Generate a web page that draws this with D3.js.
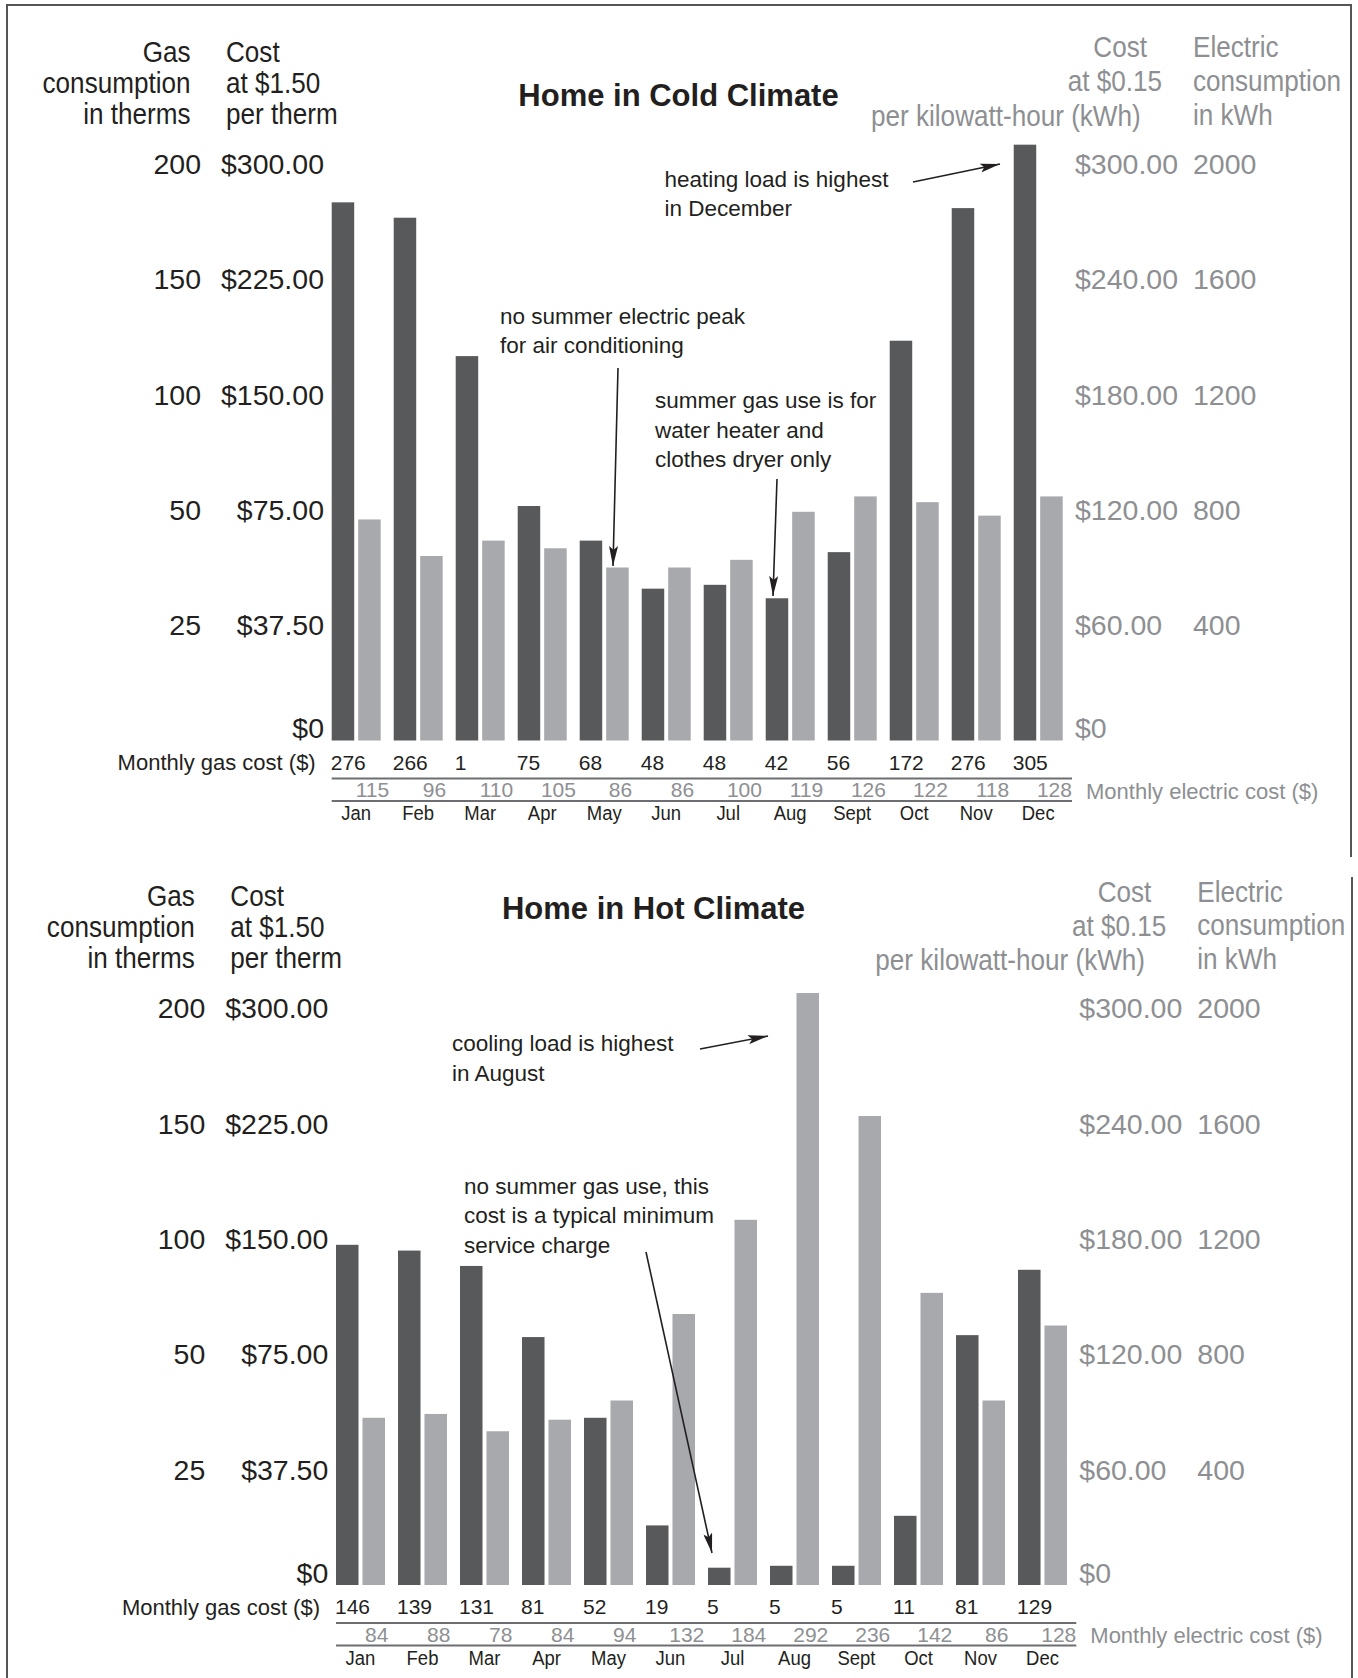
<!DOCTYPE html>
<html><head><meta charset="utf-8">
<script src="https://cdn.jsdelivr.net/npm/d3@7"></script>
<style>body{margin:0;background:#fff}</style>
</head><body><svg id="c" width="1358" height="1678"></svg>
<script>
// ---------- data ----------
const months = ["Jan","Feb","Mar","Apr","May","Jun","Jul","Aug","Sept","Oct","Nov","Dec"];

// bar heights, on the cost ($) scale
const coldGasBar  = [280, 272, 200, 122, 104, 79, 81, 74, 98, 208, 277, 310];
const coldElecBar = [115, 96, 104, 100, 90, 90, 94, 119, 127, 124, 117, 127];
const coldGasLabels  = ["276","266","1","75","68","48","48","42","56","172","276","305"];
const coldElecLabels = ["115","96","110","105","86","86","100","119","126","122","118","128"];

const hotGasBar  = [177, 174, 166, 129, 87, 31, 9, 10, 10, 36, 130, 164];
const hotElecBar = [87, 89, 80, 86, 96, 141, 190, 308, 244, 152, 96, 135];
const hotGasLabels  = ["146","139","131","81","52","19","5","5","5","11","81","129"];
const hotElecLabels = ["84","88","78","84","94","132","184","292","236","142","86","128"];

const costTicks = [0, 60, 120, 180, 240, 300];
const leftThermLabels = ["", "25", "50", "100", "150", "200"];
const leftCostLabels  = ["$0", "$37.50", "$75.00", "$150.00", "$225.00", "$300.00"];
const rightCostLabels = ["$0", "$60.00", "$120.00", "$180.00", "$240.00", "$300.00"];
const rightKwhLabels  = ["", "400", "800", "1200", "1600", "2000"];

const leftHeadA = ["Gas", "consumption", "in therms"];
const leftHeadB = ["Cost", "at $1.50", "per therm"];
const rightHeadA = ["Cost", "at $0.15", "per kilowatt-hour (kWh)"];
const rightHeadB = ["Electric", "consumption", "in kWh"];

const coldNotes = [
  {lines: ["heating load is highest", "in December"], x: 664.5, y: 178.7, from: [913, 182], to: [1000, 164]},
  {lines: ["no summer electric peak", "for air conditioning"], x: 500, y: 315.7, from: [618, 368], to: [613, 566]},
  {lines: ["summer gas use is for", "water heater and", "clothes dryer only"], x: 655, y: 400.2, from: [777, 479], to: [773, 596]}
];
const hotNotes = [
  {lines: ["cooling load is highest", "in August"], x: 452, y: 1043.3, from: [700, 1049], to: [768, 1036]},
  {lines: ["no summer gas use, this", "cost is a typical minimum", "service charge"], x: 464, y: 1185.7, from: [646, 1252], to: [712, 1553]}
];

// ---------- styles ----------
const SANS = "'Liberation Sans',Arial,sans-serif";
const GAS_COLOR = "#58595b", ELEC_COLOR = "#a7a9ac";
const DARK = "#231f20", GRAY_TEXT = "#8d8f92", RULE = "#6d6e71";

const svg = d3.select("#c");
svg.append("rect").attr("width", 1358).attr("height", 1678).attr("fill", "#fff");

svg.append("defs").append("marker")
  .attr("id", "arrow").attr("viewBox", "0 0 20 9")
  .attr("refX", 20).attr("refY", 4.5)
  .attr("markerWidth", 20).attr("markerHeight", 9)
  .attr("markerUnits", "userSpaceOnUse").attr("orient", "auto")
  .append("path").attr("d", "M0,0 L20,4.5 L0,9 L4,4.5 Z").attr("fill", DARK);

// frame
const frame = svg.append("g").attr("stroke", "#555").attr("stroke-width", 2).attr("fill", "none");
frame.append("path").attr("d", "M7,1678 L7,5 L1351,5 L1351,857");
frame.append("path").attr("d", "M1352,877 L1352,1678");

// text helper: places a (possibly horizontally condensed) text, vertically centred on y
function texts(parent, data, fx, fy, opt) {
  const sx = opt.sx || 1;
  return parent.append("g").selectAll("text").data(data).join("text")
    .attr("transform", (d, i) => `translate(${fx(d, i)},${fy(d, i)}) scale(${sx},1)`)
    .attr("dy", "0.35em")
    .attr("text-anchor", opt.anchor || "start")
    .attr("fill", opt.fill || DARK)
    .style("font-family", SANS)
    .style("font-size", opt.size + "px")
    .style("font-weight", opt.weight || "normal")
    .text(opt.text || (d => d));
}

function drawPanel(p) {
  const g = svg.append("g").attr("transform", `translate(${p.dx},${p.dy})`);

  const x = d3.scaleBand().domain(months).range([331.7, 1062.7]).paddingInner(0.21).paddingOuter(0);
  const sub = d3.scaleBand().domain(["gas", "elec"]).range([0, x.bandwidth()]).paddingInner(0.15);
  const y = d3.scaleLinear().domain([0, 300]).range([740.5, 163.9]);
  const tickY = v => v === 0 ? y(0) - 12 : y(v);

  // headers
  const H = {size: 29, sx: 0.9};
  texts(g, leftHeadA, () => 190.5, (d, i) => 51.4 + i * 31, {...H, anchor: "end"});
  texts(g, leftHeadB, () => 226, (d, i) => 51.4 + i * 31, {...H});
  const rhEnds = [1147, 1162, 1140.7];
  texts(g, rightHeadA, (d, i) => rhEnds[i], (d, i) => 47 + i * 34.3, {...H, anchor: "end", fill: GRAY_TEXT});
  texts(g, rightHeadB, () => 1193, (d, i) => 47 + i * 33.8, {...H, fill: GRAY_TEXT});

  // title
  texts(g, [p.title], () => p.titleX, () => p.titleY, {size: 31, weight: "bold", anchor: "middle"});

  // tick labels (positioned with the cost scale)
  const T = {size: 28.5};
  texts(g, costTicks, () => 201, d => tickY(d), {...T, anchor: "end", text: (d, i) => leftThermLabels[i]});
  texts(g, costTicks, () => 324, d => tickY(d), {...T, anchor: "end", text: (d, i) => leftCostLabels[i]});
  texts(g, costTicks, () => 1075, d => tickY(d), {...T, fill: GRAY_TEXT, text: (d, i) => rightCostLabels[i]});
  texts(g, costTicks, () => 1193, d => tickY(d), {...T, fill: GRAY_TEXT, text: (d, i) => rightKwhLabels[i]});

  // bars
  const rows = months.map((m, i) => ({m, gas: p.gasBar[i], elec: p.elecBar[i], gl: p.gasLabels[i], el: p.elecLabels[i]}));
  g.append("g").selectAll("rect").data(rows).join("rect")
    .attr("x", d => x(d.m) + sub("gas")).attr("width", sub.bandwidth())
    .attr("y", d => y(d.gas)).attr("height", d => y(0) - y(d.gas)).attr("fill", GAS_COLOR);
  g.append("g").selectAll("rect").data(rows).join("rect")
    .attr("x", d => x(d.m) + sub("elec")).attr("width", sub.bandwidth())
    .attr("y", d => y(d.elec)).attr("height", d => y(0) - y(d.elec)).attr("fill", ELEC_COLOR);

  // table
  const rowGas = 762.5, rule1 = 778.5, rowElec = 790, rule2 = 801, rowMonth = 813;
  texts(g, ["Monthly gas cost ($)"], () => 315.7, () => rowGas, {size: 22, anchor: "end"});
  texts(g, rows, d => x(d.m) + sub("gas") - 1, () => rowGas, {size: 21, text: d => d.gl});
  g.append("g").selectAll("line").data([rule1, rule2]).join("line")
    .attr("x1", x.range()[0]).attr("x2", 1072).attr("y1", d => d).attr("y2", d => d)
    .attr("stroke", RULE).attr("stroke-width", 2);
  texts(g, rows, d => x(d.m) + sub("elec") + sub.bandwidth() / 2 + 3, () => rowElec,
    {size: 21, anchor: "middle", fill: GRAY_TEXT, text: d => d.el});
  texts(g, ["Monthly electric cost ($)"], () => 1086, () => 791, {size: 22, fill: GRAY_TEXT});
  texts(g, rows, d => x(d.m) + x.bandwidth() / 2, () => rowMonth, {size: 21, sx: 0.88, anchor: "middle", text: d => d.m});
}

function drawNotes(notes) {
  const g = svg.append("g");
  notes.forEach(n => {
    texts(g, n.lines, () => n.x, (d, i) => n.y + i * 29.5, {size: 22.5});
    g.append("line").attr("x1", n.from[0]).attr("y1", n.from[1]).attr("x2", n.to[0]).attr("y2", n.to[1])
      .attr("stroke", DARK).attr("stroke-width", 1.6).attr("marker-end", "url(#arrow)");
  });
}

drawPanel({title: "Home in Cold Climate", titleX: 678.5, titleY: 95, dx: 0, dy: 0,
  gasBar: coldGasBar, elecBar: coldElecBar, gasLabels: coldGasLabels, elecLabels: coldElecLabels});
drawPanel({title: "Home in Hot Climate", titleX: 649.2, titleY: 64, dx: 4.3, dy: 844.5,
  gasBar: hotGasBar, elecBar: hotElecBar, gasLabels: hotGasLabels, elecLabels: hotElecLabels});
drawNotes(coldNotes);
drawNotes(hotNotes);
</script></body></html>
